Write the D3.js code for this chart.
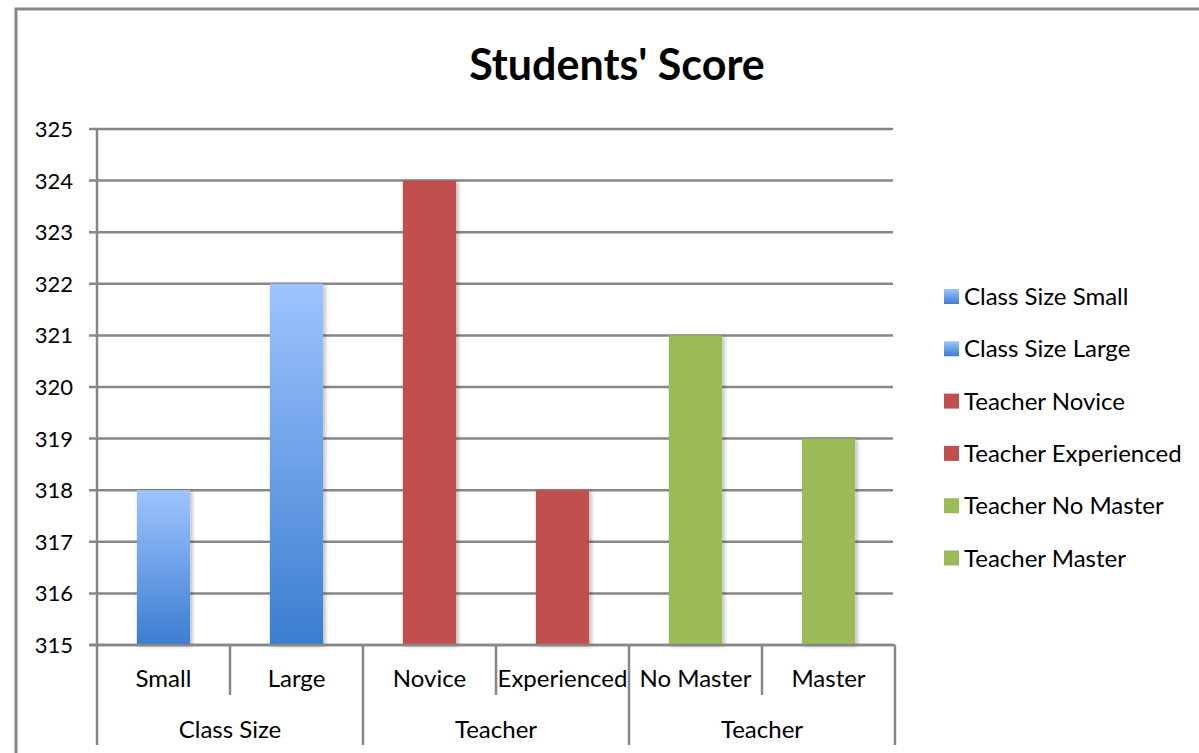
<!DOCTYPE html>
<html><head><meta charset="utf-8">
<script src="https://cdn.jsdelivr.net/npm/d3@7/dist/d3.min.js"></script>
<style>body{margin:0;background:#fff}svg{display:block}</style>
</head><body>
<svg id="c" width="1199" height="753"></svg>
<script>
const categories = ["Small","Large","Novice","Experienced","No Master","Master"];
const groupLabels = [{name:"Class Size",start:0,end:2},{name:"Teacher",start:2,end:4},{name:"Teacher",start:4,end:6}];
const values = [318,322,324,318,321,319];
const legendNames = ["Class Size Small","Class Size Large","Teacher Novice","Teacher Experienced","Teacher No Master","Teacher Master"];
const colorKeys = ["blue","blue","red","red","green","green"];
const yTicks = [315,316,317,318,319,320,321,322,323,324,325];

(function(){
const font = "Lato, 'Open Sans', sans-serif";
const svg = d3.select("#c");
const defs = svg.append("defs");
const gb = defs.append("linearGradient").attr("id","gblue").attr("x1",0).attr("y1",0).attr("x2",0).attr("y2",1);
gb.append("stop").attr("offset","0%").attr("stop-color","#9ec4ff");
gb.append("stop").attr("offset","100%").attr("stop-color","#3b7dd0");
const flt = defs.append("filter").attr("id","sh").attr("x","-20%").attr("y","-5%").attr("width","150%").attr("height","115%");
flt.append("feGaussianBlur").attr("in","SourceAlpha").attr("stdDeviation",2);
flt.append("feOffset").attr("dx",2).attr("dy",1).attr("result","b");
flt.append("feComponentTransfer").append("feFuncA").attr("type","linear").attr("slope",0.3);
const mg = flt.append("feMerge"); mg.append("feMergeNode"); mg.append("feMergeNode").attr("in","SourceGraphic");

const fills = {blue:"url(#gblue)", red:"#c0504d", green:"#9bbb59"};

svg.append("rect").attr("x",16).attr("y",9).attr("width",1199).attr("height",760)
  .attr("fill","none").attr("stroke","#878787").attr("stroke-width",3);

const pL=97, pR=895, pT=129, pB=645;
const x = d3.scaleBand().domain(categories).range([pL,pR]).paddingInner(0.6).paddingOuter(0.3);
const xb = d3.scaleBand().domain(categories).range([pL,pR]);
const y = d3.scaleLinear().domain([315,325]).range([pB,pT]);

svg.append("text").attr("x",617).attr("y",80).attr("text-anchor","middle")
  .attr("font-family",font).attr("font-weight","bold").attr("font-size",43).attr("fill","#000").text("Students' Score");

svg.append("g").selectAll("line").data(yTicks).join("line")
  .attr("x1",pL-8).attr("x2",pR-2).attr("y1",d=>y(d)).attr("y2",d=>y(d))
  .attr("stroke","#878787").attr("stroke-width",2.5);
svg.append("line").attr("x1",pL).attr("x2",pL).attr("y1",pT).attr("y2",pB).attr("stroke","#878787").attr("stroke-width",2.5);
svg.append("g").selectAll("text").data(yTicks).join("text")
  .attr("x",73).attr("y",d=>y(d)+8).attr("text-anchor","end")
  .attr("font-family",font).attr("font-size",22).attr("fill","#000").text(d=>d);

svg.append("g").selectAll("rect").data(values).join("rect")
  .attr("x",(d,i)=>x(categories[i])).attr("width",x.bandwidth())
  .attr("y",d=>y(d)).attr("height",d=>y(315)-y(d))
  .attr("fill",(d,i)=>fills[colorKeys[i]]).attr("filter","url(#sh)");

svg.append("line").attr("x1",pL-8).attr("x2",pR).attr("y1",pB).attr("y2",pB).attr("stroke","#878787").attr("stroke-width",2.5);
const bounds = d3.range(categories.length+1).map(i=> i<categories.length? xb(categories[i]) : pR);
const groupBounds = new Set([0,...groupLabels.map(g=>g.end)]);
svg.append("g").selectAll("line").data(bounds).join("line")
  .attr("x1",d=>d).attr("x2",d=>d).attr("y1",pB).attr("y2",(d,i)=>groupBounds.has(i)?745:695)
  .attr("stroke","#878787").attr("stroke-width",2.5);
svg.append("g").selectAll("text").data(categories).join("text")
  .attr("x",d=>xb(d)+xb.bandwidth()/2).attr("y",687).attr("text-anchor","middle")
  .attr("font-family",font).attr("font-size",24).attr("fill","#000").text(d=>d);
svg.append("g").selectAll("text").data(groupLabels).join("text")
  .attr("x",d=>(bounds[d.start]+bounds[d.end])/2).attr("y",738).attr("text-anchor","middle")
  .attr("font-family",font).attr("font-size",24).attr("fill","#000").text(d=>d.name);

const lg = svg.append("g").selectAll("g").data(legendNames).join("g")
  .attr("transform",(d,i)=>`translate(944,${297+i*52.3})`);
lg.append("rect").attr("x",0).attr("y",-8).attr("width",15).attr("height",15).attr("fill",(d,i)=>fills[colorKeys[i]]);
lg.append("text").attr("x",20).attr("y",8).attr("font-family",font).attr("font-size",24).attr("fill","#000").text(d=>d);
})();
</script>
</body></html>
